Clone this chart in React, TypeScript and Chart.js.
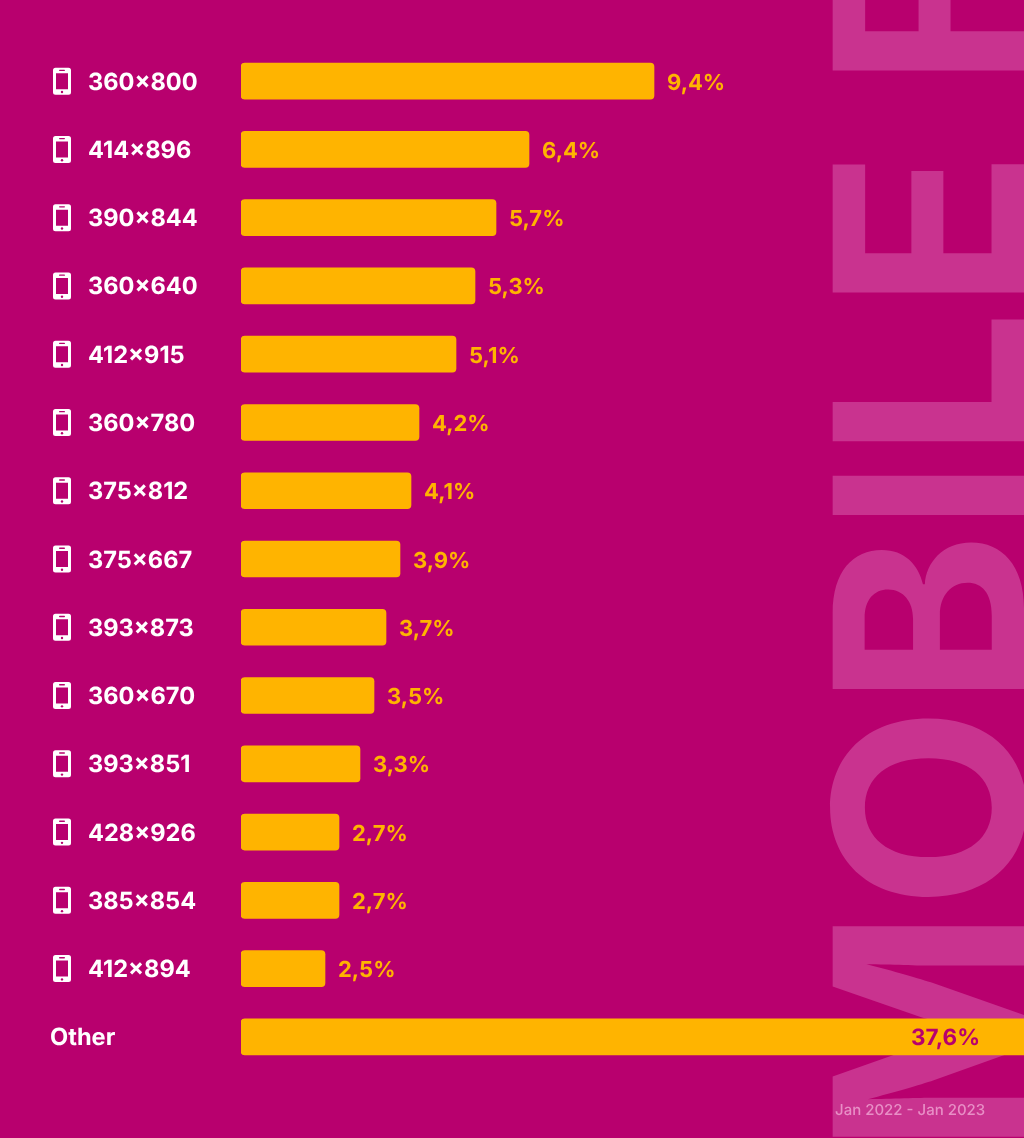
import React, { useEffect, useRef } from "react";
import { Chart, registerables } from "chart.js";

Chart.register(...registerables);

const categories = ["360×800","414×896","390×844","360×640","412×915","360×780","375×812","375×667","393×873","360×670","393×851","428×926","385×854","412×894","Other"];
const shareLabels = ["9,4%","6,4%","5,7%","5,3%","5,1%","4,2%","4,1%","3,9%","3,7%","3,5%","3,3%","2,7%","2,7%","2,5%","37,6%"];
// Drawn bar lengths (the reference's bars are not proportional to the shares)
const barLengths = [413,288,255,234,215,178,170,159,145,133,119,98,98,84,800];
const watermark = "MOBILE F";
const period = "Jan 2022 - Jan 2023";

const BG = "#B8006E";
const BAR = "#FFB400";
const FONT = "Inter, sans-serif";

function text(ctx: CanvasRenderingContext2D, s: string, x: number, y: number, size: number, weight: number, color: string, align: CanvasTextAlign = "left") {
  ctx.save();
  ctx.translate(x, y);
  const k = size / 14;
  ctx.scale(k, k);
  ctx.font = `${weight} 14px ${FONT}`;
  (ctx as any).textRendering = "geometricPrecision";
  ctx.textAlign = align;
  ctx.textBaseline = "alphabetic";
  ctx.fillStyle = color;
  ctx.fillText(s, 0, 0);
  ctx.restore();
}

function drawPhone(ctx: CanvasRenderingContext2D, cx: number, cy: number) {
  const x = cx - 9, y = cy - 13.5, w = 18, h = 27;
  ctx.save();
  ctx.fillStyle = "#fff";
  ctx.beginPath();
  ctx.roundRect(x, y, w, h, 2.5);
  ctx.rect(x + 3, y + 5.5, w - 6, h - 11);
  ctx.fill("evenodd");
  ctx.fillStyle = BG;
  ctx.beginPath();
  ctx.roundRect(cx - 3, y + 2, 6, 1.4, 0.7);
  ctx.fill();
  ctx.beginPath();
  ctx.arc(cx, y + h - 2.7, 1.2, 0, Math.PI * 2);
  ctx.fill();
  ctx.restore();
}

const backdrop = {
  id: "backdrop",
  beforeDatasetsDraw(chart: any) {
    const { ctx, width, height } = chart;
    ctx.save();
    ctx.fillStyle = BG;
    ctx.fillRect(0, 0, width, height);
    ctx.translate(1024, 1140);
    ctx.rotate(-Math.PI / 2);
    text(ctx, watermark, -14, 0, 263, 700, "#C9338F");
    ctx.restore();
  },
};

const annotations = {
  id: "annotations",
  afterDatasetsDraw(chart: any) {
    const { ctx } = chart;
    const meta = chart.getDatasetMeta(0);
    meta.data.forEach((bar: any, i: number) => {
      const y = bar.y;
      const isOther = categories[i] === "Other";
      text(ctx, categories[i], isOther ? 50 : 88, y + 8.5, 23.6, 700, "#fff");
      if (!isOther) drawPhone(ctx, 62, y);
      if (isOther) {
        text(ctx, shareLabels[i], 980, y + 8.5, 22.5, 700, BG, "right");
      } else {
        text(ctx, shareLabels[i], bar.x + 13, y + 8.5, 22, 700, BAR);
      }
    });
    text(ctx, period, 835, 1115, 15, 500, "#E88FC6");
  },
};

export default function App() {
  const ref = useRef<HTMLCanvasElement>(null);
  useEffect(() => {
    document.body.style.margin = "0";
    const chart = new Chart(ref.current!, {
      type: "bar",
      data: {
        labels: categories,
        datasets: [{
          data: barLengths,
          backgroundColor: BAR,
          borderRadius: 4,
          borderSkipped: false,
          barThickness: 36,
        }],
      },
      options: {
        indexAxis: "y",
        animation: false,
        responsive: false,
        devicePixelRatio: 1,
        layout: { padding: { left: 241, right: 0, top: 47, bottom: 67 } },
        plugins: { legend: { display: false }, tooltip: { enabled: false }, title: { display: false } },
        scales: {
          x: { display: false, min: 0, max: 783 },
          y: { display: false },
        },
      },
      plugins: [backdrop, annotations],
    } as any);
    return () => chart.destroy();
  }, []);
  return <canvas ref={ref} width={1024} height={1138} style={{ display: "block" }} />;
}
